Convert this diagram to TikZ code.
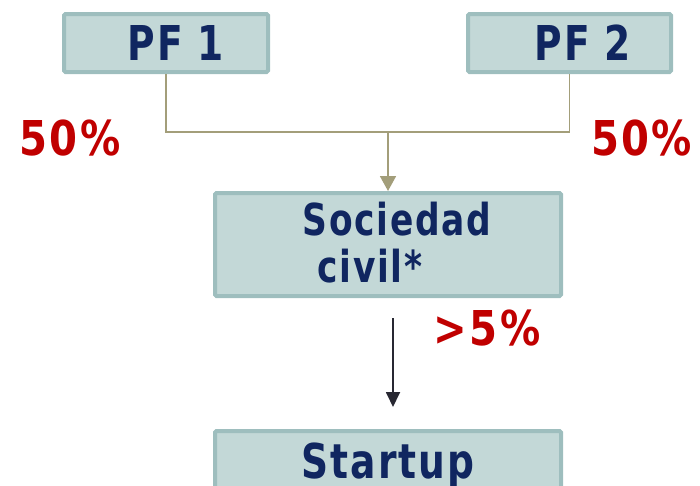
\documentclass[tikz,border=0pt]{standalone}
\usepackage{fontspec}
\setmainfont{DejaVu Sans Condensed}[BoldFont={DejaVu Sans Condensed Bold}]
\newfontfamily\labelfont{DejaVu Sans Condensed Bold}[FakeStretch=0.87, LetterSpace=4]
\newfontfamily\pctfont{DejaVu Sans Condensed Bold}[FakeStretch=0.93, LetterSpace=5]
\usetikzlibrary{arrows.meta}
\definecolor{boxfill}{RGB}{195,216,215}
\definecolor{boxline}{RGB}{158,190,190}
\definecolor{navy}{RGB}{16,38,96}
\definecolor{pctred}{RGB}{192,0,0}
\definecolor{olive}{RGB}{163,158,122}
\definecolor{darkarrow}{RGB}{40,40,50}
\tikzset{
  entity/.style={draw=boxline, fill=boxfill, line width=4pt, rounded corners=1.5pt,
    inner sep=0pt, minimum height=58pt},
  boxtext/.style={text=navy, font=\labelfont\fontsize{48}{48}\selectfont, inner sep=0pt, anchor=base},
  pct/.style={text=pctred, font=\pctfont\fontsize{48}{48}\selectfont, inner sep=0pt, anchor=base},
  share/.style={draw=olive, line width=1.8pt},
  sharetip/.style={share, -{Triangle[length=15pt,width=16pt]}},
  holding/.style={draw=darkarrow, line width=1.8pt, -{Triangle[length=15pt,width=14pt]}}
}
\begin{document}
\begin{tikzpicture}[x=1pt,y=-1pt]
  \useasboundingbox (0,0) rectangle (700,485);
  \clip (0,0) rectangle (700,485);

  % partners
  \node[entity, minimum width=204pt] (pf1) at (166,43) {};
  \node[entity, minimum width=203pt] (pf2) at (569.5,43) {};
  \node[boxtext] (pf1t) at (176,60) {PF 1};
  \node[boxtext] (pf2t) at (583,60) {PF 2};

  % civil company
  \node[entity, minimum width=346pt, minimum height=103pt] (soc) at (388,244.5) {};
  \node[boxtext, font=\labelfont\fontsize{44}{44}\selectfont] (soct1) at (397,235) {Sociedad};
  \node[boxtext, font=\labelfont\fontsize{44}{44}\selectfont] (soct2) at (370,282) {civil*};

  % startup
  \node[entity, minimum width=346pt, minimum height=100pt] (start) at (388,481) {};
  \node[boxtext] (startt) at (388,478) {Startup};

  % ownership percentages
  \node[pct] (p1) at (70,155) {50\%};
  \node[pct, anchor=base west] (p2) at (591,155) {50\%};
  \node[pct] (p3) at (487,345) {>5\%};

  % joined ownership lines
  \coordinate (join) at (388,132);
  \draw[share] (pf1.south) |- (join);
  \draw[share] (pf2.south) |- (join);
  \draw[sharetip] (join) -- (soc.north);

  % holding of the startup
  \coordinate (hold) at (393,318);
  \coordinate (holdend) at (393,407);
  \draw[holding] (hold) -- (holdend);
\end{tikzpicture}
\end{document}
